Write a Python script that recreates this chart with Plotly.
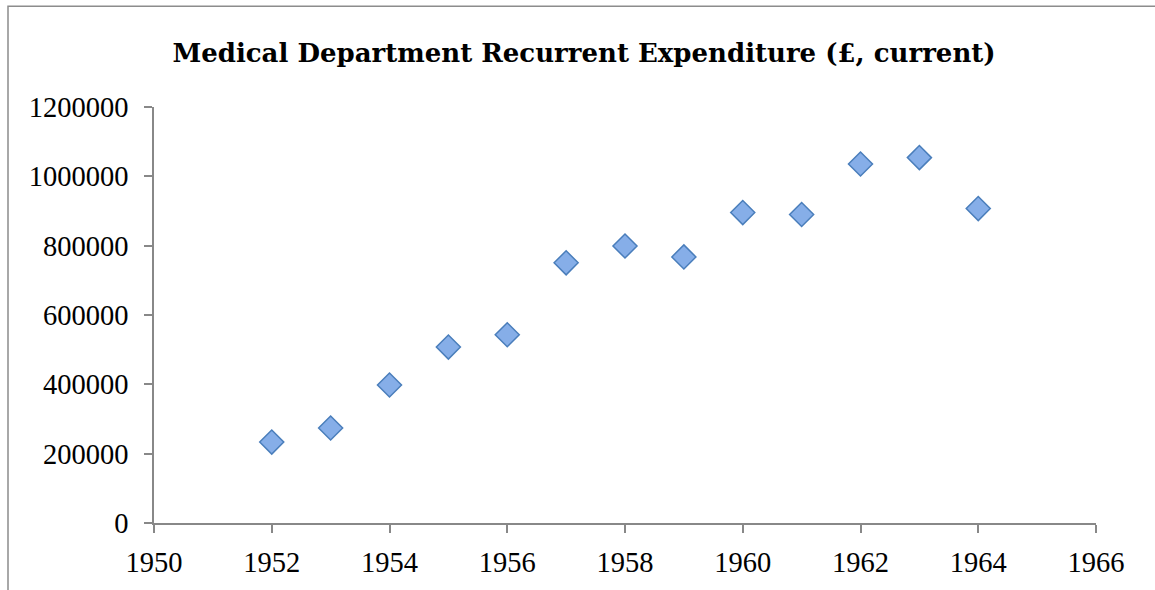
import plotly.graph_objects as go

years = [1952, 1953, 1954, 1955, 1956, 1957, 1958, 1959, 1960, 1961, 1962, 1963, 1964]
expenditure = [233500, 274000, 398000, 507500, 543000, 750500, 799000, 767500,
               895500, 890000, 1035500, 1054000, 907000]
x_ticks = [1950, 1952, 1954, 1956, 1958, 1960, 1962, 1964, 1966]
y_ticks = [0, 200000, 400000, 600000, 800000, 1000000, 1200000]
title_text = "Medical Department Recurrent Expenditure (£, current)"

W, H = 1155, 590
L, R, T, B = 154, 59, 106.7, 63.3
pw, ph = W - L - R, H - T - B

fig = go.Figure()
fig.add_trace(go.Scatter(
    x=years, y=expenditure, mode="markers",
    marker=dict(symbol="diamond", size=18.5, color="#86AEE8",
                line=dict(color="#4A7EBB", width=1.5)),
    showlegend=False, hoverinfo="x+y",
))

axis_font = dict(family="Liberation Serif", size=28.5, color="#000000")
fig.update_layout(
    width=W, height=H,
    margin=dict(l=L, r=R, t=T, b=B, pad=0),
    paper_bgcolor="white", plot_bgcolor="white",
    title=dict(text="<b>" + title_text + "</b>", xref="container", yref="container",
               x=584 / W, y=1 - 53 / H, xanchor="center", yanchor="middle",
               font=dict(family="DejaVu Serif", size=26, color="#000000")),
    xaxis=dict(range=[1950, 1966], tickvals=x_ticks, ticktext=[str(v) for v in x_ticks],
               showgrid=False, zeroline=False, showline=True, linecolor="#888888",
               linewidth=1.5, ticks="outside", ticklen=8, tickwidth=1.5,
               tickcolor="#888888", tickfont=axis_font, ticklabelstandoff=5),
    yaxis=dict(range=[0, 1200000], tickvals=y_ticks, ticktext=[str(v) for v in y_ticks],
               showgrid=False, zeroline=False, showline=True, linecolor="#888888",
               linewidth=1.5, ticks="outside", ticklen=8, tickwidth=1.5,
               tickcolor="#888888", tickfont=axis_font, ticklabelstandoff=10),
    shapes=[dict(type="rect", xref="paper", yref="paper",
                 x0=(8 - L) / pw, x1=(1170 - L) / pw,
                 y0=(H - B - 605) / ph, y1=(H - B - 5) / ph,
                 line=dict(color="#8C8C8C", width=1.5), fillcolor="rgba(0,0,0,0)",
                 layer="below")],
)

fig.write_html("out.html", config={"displayModeBar": False},
               post_script="document.body.style.margin='0px';document.body.style.overflow='hidden';")
